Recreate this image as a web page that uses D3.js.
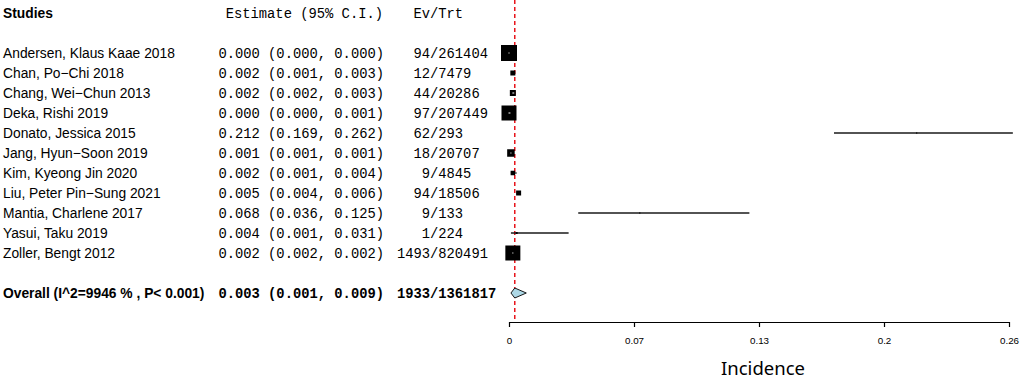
<!DOCTYPE html>
<html>
<head>
<meta charset="utf-8">
<script src="https://cdn.jsdelivr.net/npm/d3@7"></script>
<style>
  body { margin: 0; background: #fff; }
  svg { display: block; }
</style>
</head>
<body>
<svg id="drawing_region"></svg>
<script>
// study-level data
const studies = ["Andersen, Klaus Kaae 2018", "Chan, Po\u2212Chi 2018", "Chang, Wei\u2212Chun 2013",
    "Deka, Rishi 2019", "Donato, Jessica 2015", "Jang, Hyun\u2212Soon 2019", "Kim, Kyeong Jin 2020",
    "Liu, Peter Pin\u2212Sung 2021", "Mantia, Charlene 2017", "Yasui, Taku 2019", "Zoller, Bengt 2012"];
const estimate = [0.000, 0.002, 0.002, 0.000, 0.212, 0.001, 0.002, 0.005, 0.068, 0.004, 0.002];
const lower    = [0.000, 0.001, 0.002, 0.000, 0.169, 0.001, 0.001, 0.004, 0.036, 0.001, 0.002];
const upper    = [0.000, 0.003, 0.003, 0.001, 0.262, 0.001, 0.004, 0.006, 0.125, 0.031, 0.002];
const events   = [94, 12, 44, 97, 62, 18, 9, 94, 9, 1, 1493];
const totals   = [261404, 7479, 20286, 207449, 293, 20707, 4845, 18506, 133, 224, 820491];
const weight   = [16, 5, 6, 15, 1.2, 7.5, 4.5, 5, 1.2, 2, 15];

// pooled result
const overallLabel = "Overall (I^2=9946 % , P< 0.001)";
const overallEst = 0.003, overallLo = 0.001, overallHi = 0.009;
const overallEvents = 1933, overallTotal = 1361817;

// axis
const tickValues = [0, 0.065, 0.13, 0.195, 0.26];
const tickLabels = ["0", "0.07", "0.13", "0.2", "0.26"];

const W = 1021, H = 379;
const sans = "'Liberation Sans', Arial, Helvetica, sans-serif";
const mono = "'Liberation Mono', 'Courier New', monospace";

const svg = d3.select('#drawing_region').attr('width', W).attr('height', H);

const x = d3.scaleLinear().domain([0, 0.26]).range([509, 1009]);
const y = d3.scaleLinear().domain([0, 12]).range([53, 293]);
const box = d3.scaleLinear().domain([0, 16]).range([0, 16]);

const rows = studies.map((s, i) => ({
    name: s, est: estimate[i], lo: lower[i], hi: upper[i],
    ev: events[i], n: totals[i], w: weight[i], row: i
}));

const fmt = d3.format(".3f");

// headers
svg.append('text').attr('x', 3).attr('y', y(-2)).attr('dy', '0.35em')
    .attr('font-family', sans).attr('font-size', 13.8).attr('font-weight', 'bold')
    .text('Studies');
svg.append('text').attr('x', 383).attr('y', y(-2)).attr('dy', '0.35em')
    .attr('text-anchor', 'end').attr('font-family', mono).attr('font-size', 13.8)
    .text('Estimate (95% C.I.)');
svg.append('text').attr('x', 430).attr('y', y(-2)).attr('dy', '0.35em')
    .attr('text-anchor', 'end').attr('font-family', mono).attr('font-size', 13.8)
    .text('Ev');
svg.append('text').attr('x', 430).attr('y', y(-2)).attr('dy', '0.35em')
    .attr('font-family', mono).attr('font-size', 13.8)
    .text('/Trt');

// reference line at pooled estimate
svg.append('line')
    .attr('x1', x(overallEst)).attr('x2', x(overallEst))
    .attr('y1', 0).attr('y2', 320)
    .attr('stroke', '#e8141b').attr('stroke-width', 1.5)
    .attr('stroke-dasharray', '4,3');

const g = svg.selectAll('g.study').data(rows).enter().append('g').attr('class', 'study');

g.append('text').attr('x', 3).attr('y', d => y(d.row)).attr('dy', '0.35em')
    .attr('font-family', sans).attr('font-size', 13.8)
    .text(d => d.name);

g.append('text').attr('x', 384).attr('y', d => y(d.row)).attr('dy', '0.35em')
    .attr('text-anchor', 'end').attr('font-family', mono).attr('font-size', 13.8)
    .text(d => `${fmt(d.est)} (${fmt(d.lo)}, ${fmt(d.hi)})`);

g.append('text').attr('x', 430).attr('y', d => y(d.row)).attr('dy', '0.35em')
    .attr('text-anchor', 'end').attr('font-family', mono).attr('font-size', 13.8)
    .text(d => d.ev);
g.append('text').attr('x', 430).attr('y', d => y(d.row)).attr('dy', '0.35em')
    .attr('font-family', mono).attr('font-size', 13.8)
    .text(d => '/' + d.n);

// confidence intervals
g.append('line')
    .attr('x1', d => x(d.lo)).attr('x2', d => x(d.hi))
    .attr('y1', d => y(d.row)).attr('y2', d => y(d.row))
    .attr('stroke', '#1a1a1a').attr('stroke-width', 1.3);

// weight boxes
g.append('rect')
    .attr('x', d => x(d.est) - box(d.w) / 2)
    .attr('y', d => y(d.row) - box(d.w) / 2)
    .attr('width', d => box(d.w)).attr('height', d => box(d.w))
    .attr('fill', '#000');

// CI drawn white inside the box
g.filter(d => box(d.w) > 5.5).append('rect')
    .attr('x', d => Math.max(x(d.lo), x(d.est) - box(d.w) / 2 + 1) - 0.5)
    .attr('y', d => y(d.row) - 0.5)
    .attr('width', d => Math.max(1, Math.min(x(d.hi), x(d.est) + box(d.w) / 2 - 1) - Math.max(x(d.lo), x(d.est) - box(d.w) / 2 + 1)))
    .attr('height', 1)
    .attr('fill', '#fff');

// overall row
svg.append('text').attr('x', 3).attr('y', y(12)).attr('dy', '0.35em')
    .attr('font-family', sans).attr('font-size', 13.8).attr('font-weight', 'bold')
    .text(overallLabel);
svg.append('text').attr('x', 384).attr('y', y(12)).attr('dy', '0.35em')
    .attr('text-anchor', 'end').attr('font-family', mono).attr('font-size', 13.8).attr('font-weight', 'bold')
    .text(`${fmt(overallEst)} (${fmt(overallLo)}, ${fmt(overallHi)})`);
svg.append('text').attr('x', 430).attr('y', y(12)).attr('dy', '0.35em')
    .attr('text-anchor', 'end').attr('font-family', mono).attr('font-size', 13.8).attr('font-weight', 'bold')
    .text(overallEvents);
svg.append('text').attr('x', 430).attr('y', y(12)).attr('dy', '0.35em')
    .attr('font-family', mono).attr('font-size', 13.8).attr('font-weight', 'bold')
    .text('/' + overallTotal);

const yo = y(12);
svg.append('path')
    .attr('d', `M${x(overallLo)},${yo} L${x(overallEst)},${yo - 5} L${x(overallHi)},${yo} L${x(overallEst)},${yo + 5} Z`)
    .attr('fill', '#add8e6').attr('stroke', '#000').attr('stroke-width', 0.9);

// x axis
const axis = svg.append('g')
    .attr('transform', 'translate(0,322)')
    .call(d3.axisBottom(x).tickValues(tickValues)
        .tickFormat((d, i) => tickLabels[i])
        .tickSize(5).tickSizeOuter(0).tickPadding(10));
axis.selectAll('text').attr('font-family', sans).attr('font-size', 9.8).attr('fill', '#000');
axis.selectAll('line, path').attr('stroke', '#000').attr('stroke-width', 1.2);

svg.append('text')
    .attr('x', x(0.13) + 4).attr('y', 375)
    .attr('text-anchor', 'middle')
    .attr('font-family', "'Noto Sans', sans-serif").attr('font-size', 18.5)
    .text('Incidence');
</script>
</body>
</html>
